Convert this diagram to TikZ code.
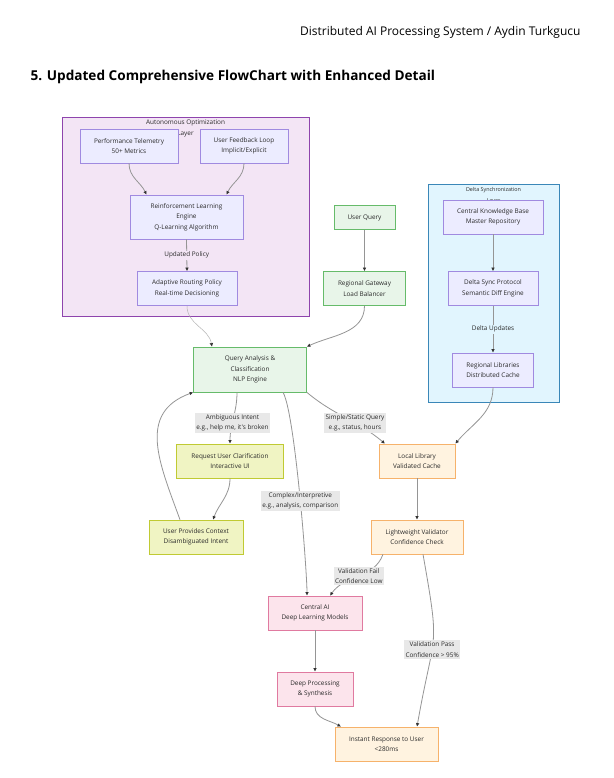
\documentclass[tikz,border=0pt]{standalone}
\usepackage{fontspec}
\setmainfont{Open Sans}
\newfontfamily\flowfont{Open Sans}
\usepackage{tikz}
\usetikzlibrary{arrows.meta}
\definecolor{autofill}{HTML}{F3E5F5}
\definecolor{autodraw}{HTML}{8E44AD}
\definecolor{deltafill}{HTML}{E1F5FE}
\definecolor{deltadraw}{HTML}{3A87B8}
\definecolor{nodefill}{HTML}{ECECFF}
\definecolor{nodedraw}{HTML}{A08AE0}
\definecolor{grnfill}{HTML}{E8F5E9}
\definecolor{grndraw}{HTML}{66BB6A}
\definecolor{ylwfill}{HTML}{F0F4C3}
\definecolor{ylwdraw}{HTML}{C0CA33}
\definecolor{orgfill}{HTML}{FFF3E0}
\definecolor{orgdraw}{HTML}{F6B26B}
\definecolor{pnkfill}{HTML}{FCE4EC}
\definecolor{pnkdraw}{HTML}{E07AA0}
\definecolor{lblfill}{HTML}{E8E8E8}
\definecolor{linkgray}{HTML}{959595}
\definecolor{tipgray}{HTML}{333333}
\definecolor{txtgray}{HTML}{2A2A2A}

\begin{document}
\begin{tikzpicture}[x=1pt, y=-1pt,
  box/.style={draw, line width=0.6pt, align=center, text=txtgray,
    font=\flowfont\fontsize{6.4}{10.5}\selectfont, minimum height=34, inner sep=0pt},
  purp/.style={box, fill=nodefill, draw=nodedraw},
  grn/.style={box, fill=grnfill, draw=grndraw},
  ylw/.style={box, fill=ylwfill, draw=ylwdraw},
  org/.style={box, fill=orgfill, draw=orgdraw},
  pnk/.style={box, fill=pnkfill, draw=pnkdraw},
  layer/.style={draw, line width=1pt, inner sep=0pt},
  layerttl/.style={anchor=north, align=center, inner sep=1pt, text=txtgray,
    font=\flowfont\fontsize{6.4}{10.5}\selectfont},
  lnk/.style={color=linkgray, line width=0.8pt,
    -{Latex[length=3.6pt, width=3.6pt, color=tipgray]}},
  lbl/.style={fill=lblfill, align=center, inner sep=1.5pt, text=txtgray,
    font=\flowfont\fontsize{6.4}{10.5}\selectfont}]
\fill[white] (0,0) rectangle (613,778);
\useasboundingbox (0,0) rectangle (613,778);

\node[anchor=east, font=\fontsize{12}{14}\selectfont] (hdr) at (584,32)
  {Distributed AI Processing System / Aydin Turkgucu};
\node[anchor=west, font=\bfseries\fontsize{13.6}{16}\selectfont] (ttl) at (27,77)
  {5. Updated Comprehensive FlowChart with Enhanced Detail};

\node[layer, fill=autofill, draw=autodraw, minimum width=247, minimum height=198] (autolayer) at (185.5,217) {};
\node[layerttl] (autottl) at ([yshift=-1.5]autolayer.north) {Autonomous Optimization\\Layer};
\node[layer, fill=deltafill, draw=deltadraw, minimum width=131, minimum height=218] (deltalayer) at (493.5,293) {};
\node[layerttl, font=\flowfont\fontsize{5.4}{10.5}\selectfont] (deltattl) at ([yshift=-3]deltalayer.north) {Delta Synchronization\\Layer};

\node[purp, minimum width=98] (perf) at (129,146) {Performance Telemetry\\50+ Metrics};
\node[purp, minimum width=88] (ufl) at (244,146) {User Feedback Loop\\Implicit/Explicit};
\node[purp, minimum width=113, minimum height=44] (rl) at (186.5,217) {Reinforcement Learning\\Engine\\Q-Learning Algorithm};
\node[purp, minimum width=100] (arp) at (187,288.5) {Adaptive Routing Policy\\Real-time Decisioning};
\node[purp, minimum width=100] (ckb) at (493,217) {Central Knowledge Base\\Master Repository};
\node[purp, minimum width=90] (dsp) at (493,288.5) {Delta Sync Protocol\\Semantic Diff Engine};
\node[purp, minimum width=81] (rlib) at (493,370) {Regional Libraries\\Distributed Cache};
\node[grn, minimum width=61, minimum height=24] (uq) at (364.5,217.5) {User Query};
\node[grn, minimum width=82] (rg) at (364.5,288.5) {Regional Gateway\\Load Balancer};
\node[grn, minimum width=113, minimum height=45] (qa) at (250,369.5) {Query Analysis \&\\Classification\\NLP Engine};
\node[ylw, minimum width=107] (ruc) at (230,461) {Request User Clarification\\Interactive UI};
\node[ylw, minimum width=94] (upc) at (196,537) {User Provides Context\\Disambiguated Intent};
\node[org, minimum width=76] (ll) at (417,461) {Local Library\\Validated Cache};
\node[org, minimum width=92] (lv) at (417,537) {Lightweight Validator\\Confidence Check};
\node[pnk, minimum width=94] (cai) at (315,613) {Central AI\\Deep Learning Models};
\node[pnk, minimum width=76] (dp) at (315,689) {Deep Processing\\\& Synthesis};
\node[org, minimum width=103] (ir) at (386.5,744) {Instant Response to User\\<280ms};

\path[lnk]
(perf.south) edge[out=270, in=115] ([xshift=-40]rl.north)
(ufl.south) edge[out=270, in=65] ([xshift=40]rl.north)
(rl.south) edge node[lbl, fill=autofill] {Updated Policy} (arp.north)
(arp.south) edge[out=270, in=100, line width=0.5pt, linkgray!70] ([xshift=-38]qa.north)
(uq) edge (rg)
(rg.south) edge[out=270, in=25] (qa.north east)
(ckb) edge (dsp)
(dsp) edge node[lbl, fill=deltafill] {Delta Updates} (rlib)
(rlib.south) edge[out=270, in=50] (ll.north east)
([xshift=-13]qa.south) edge[out=270, in=90] node[lbl, pos=0.6] {Ambiguous Intent\\e.g., help me, it's broken} (ruc.north)
(qa.south east) edge[out=-40, in=140] node[lbl, pos=0.62] {Simple/Static Query\\e.g., status, hours} ([xshift=-32]ll.north)
([xshift=33]qa.south) edge[out=-60, in=90, looseness=0.3] node[lbl, pos=0.53] {Complex/Interpretive\\e.g., analysis, comparison} ([xshift=-8]cai.north)
(ruc.south) edge[out=270, in=70] ([xshift=17]upc.north)
([xshift=-16]upc.north) edge[out=110, in=200, looseness=1.2] (qa.south west)
(ll) edge (lv)
([xshift=-34]lv.south) edge[out=250, in=55] node[lbl] {Validation Fail\\Confidence Low} ([xshift=15]cai.north)
([xshift=6]lv.south) edge[out=-80, in=80, looseness=1.5] node[lbl, pos=0.58] {Validation Pass\\Confidence > 95\%} ([xshift=30.5]ir.north)
(cai) edge (dp)
(dp.south) edge[out=270, in=150] ([xshift=-45.5]ir.north);
\end{tikzpicture}
\end{document}
